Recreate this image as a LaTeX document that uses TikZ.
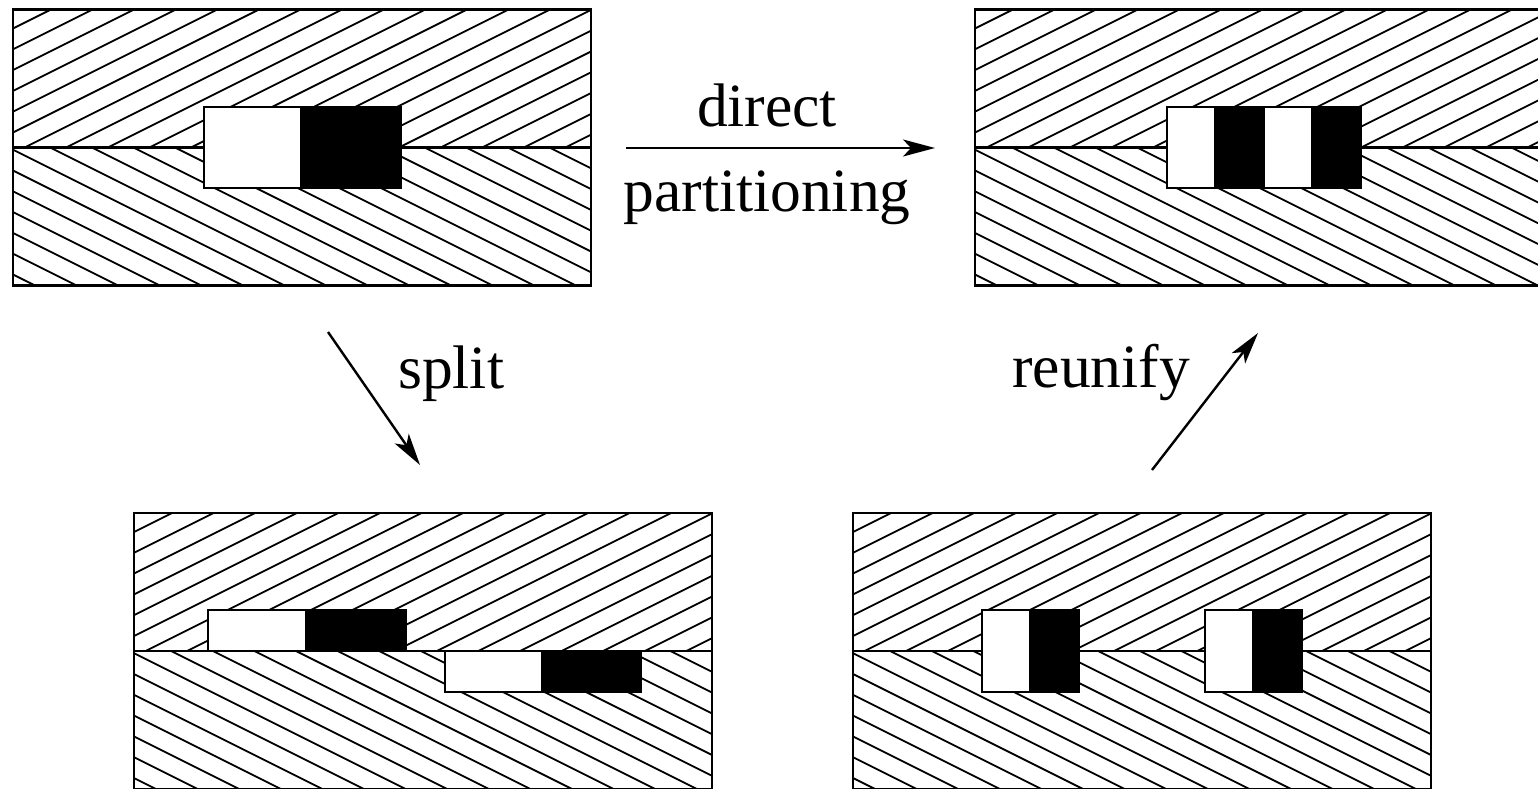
\documentclass[tikz,border=0pt]{standalone}
\usepackage{fontspec}
\setmainfont{Liberation Serif}
\usetikzlibrary{arrows.meta}
\newcommand\hpanel[3]{%
  \coordinate (#1) at (#2,#3);
  \begin{scope}
    \clip (#2,#3) rectangle ++(578,138);
    \foreach \k [evaluate=\k as \c using #3+19+20.8*\k] in {-1,...,21}
      \draw[hatchline] (#2,\c) -- ++(578,-289);
  \end{scope}
  \begin{scope}
    \clip (#2,#3+138) rectangle ++(578,138);
    \foreach \k [evaluate=\k as \c using #3+138+23+20.8*\k] in {-15,...,6}
      \draw[hatchline] (#2,\c) -- ++(578,289);
  \end{scope}
  \draw[frame] (#2,#3) rectangle ++(578,276);
  \draw[frame] (#2,#3+138) -- ++(578,0);
}
\newcommand\cellbox[5]{\draw[frame,fill=#5] (#1,#2) rectangle ++(#3,#4);}
\tikzset{
  hatchline/.style={line width=1.8pt},
  frame/.style={line width=2.6pt},
  arr/.style={line width=2.4pt,arrows={-Stealth[length=32pt,width=17pt,inset=8pt]}},
  lbl/.style={font=\fontsize{61.5}{70}\selectfont,inner sep=0pt}}
\begin{document}
\begin{tikzpicture}[x=1pt,y=-1pt]
\useasboundingbox (0,0) rectangle (1538,789);
\clip (0,0) rectangle (1538,789);
% top-left panel
\hpanel{pTL}{13}{9.5}
\cellbox{204}{107}{97}{81}{white}
\cellbox{301}{107}{100}{81}{black}
% top-right panel
\hpanel{pTR}{975}{9.5}
\cellbox{1167}{107}{48.5}{81}{white}
\cellbox{1215.5}{107}{48.5}{81}{black}
\cellbox{1264}{107}{48.5}{81}{white}
\cellbox{1312.5}{107}{48.5}{81}{black}
% bottom-left panel
\hpanel{pBL}{134}{513}
\cellbox{208}{610}{98}{41}{white}
\cellbox{306}{610}{100}{41}{black}
\cellbox{445}{651}{97}{41}{white}
\cellbox{542}{651}{99}{41}{black}
% bottom-right panel
\hpanel{pBR}{853}{513}
\cellbox{982}{610}{48}{82}{white}
\cellbox{1030}{610}{49}{82}{black}
\cellbox{1205}{610}{48}{82}{white}
\cellbox{1253}{610}{49}{82}{black}
% arrows
\coordinate (dpS) at (626,148);
\coordinate (dpE) at (935,148);
\coordinate (spS) at (328,332);
\coordinate (spE) at (420,465);
\coordinate (ruS) at (1152,470);
\coordinate (ruE) at (1258,333);
\draw[arr] (dpS) -- (dpE);
\draw[arr] (spS) -- (spE);
\draw[arr] (ruS) -- (ruE);
% labels
\node[lbl,anchor=base] (tdirect) at (767,127) {direct};
\node[lbl,anchor=base] (tpart) at (767,211) {partitioning};
\node[lbl,anchor=base west] (tsplit) at (398,388) {split};
\node[lbl,anchor=base west] (treun) at (1012,387) {reunify};
\end{tikzpicture}
\end{document}
